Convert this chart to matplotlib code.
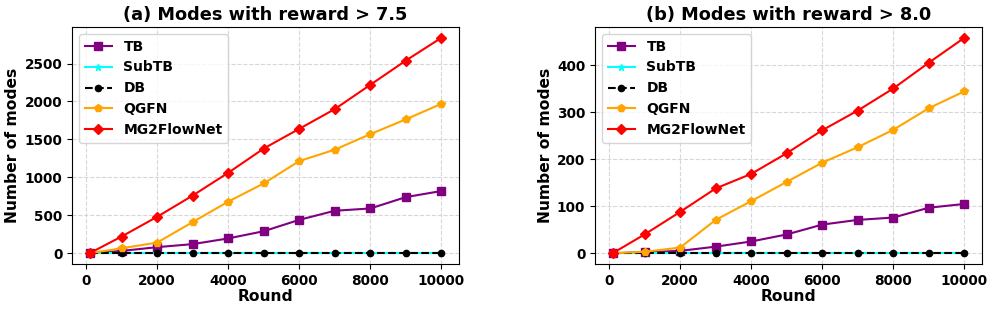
import matplotlib.pyplot as plt

rounds = [100, 1000, 2000, 3000, 4000, 5000, 6000, 7000, 8000, 9000, 10000]

# (a) reward > 7.5
tb_a = [0, 30, 80, 120, 195, 290, 440, 560, 590, 740, 820]
subtb_a = [0, 0, 0, 0, 0, 0, 0, 0, 0, 0, 0]
db_a = [0, 0, 0, 0, 0, 0, 0, 0, 0, 0, 0]
qgfn_a = [0, 65, 140, 410, 680, 920, 1215, 1365, 1570, 1765, 1970]
mg2_a = [0, 220, 480, 760, 1060, 1380, 1640, 1900, 2220, 2540, 2840]

# (b) reward > 8.0
tb_b = [0, 2, 5, 14, 25, 40, 61, 71, 76, 97, 105]
subtb_b = [0, 0, 0, 0, 0, 0, 0, 0, 0, 0, 0]
db_b = [0, 0, 0, 0, 0, 0, 0, 0, 0, 0, 0]
qgfn_b = [0, 3, 12, 71, 111, 152, 193, 226, 263, 309, 345]
mg2_b = [0, 40, 88, 138, 169, 213, 262, 304, 351, 406, 459]

titles = ["(a) Modes with reward > 7.5", "(b) Modes with reward > 8.0"]
series = [
    (tb_a, subtb_a, db_a, qgfn_a, mg2_a),
    (tb_b, subtb_b, db_b, qgfn_b, mg2_b),
]

plt.rcParams["font.weight"] = "bold"
plt.rcParams["axes.labelweight"] = "bold"
plt.rcParams["axes.titleweight"] = "bold"

fig = plt.figure(figsize=(9.96, 3.12), dpi=100)
boxes = [[72 / 996, 1 - 264 / 312, 387 / 996, 237 / 312],
         [595 / 996, 1 - 264 / 312, 387 / 996, 237 / 312]]

for i in range(2):
    ax = fig.add_axes(boxes[i])
    tb, subtb, db, qgfn, mg2 = series[i]
    ax.plot(rounds, tb, color="purple", marker="s", markersize=5.5, linewidth=1.5, label="TB")
    ax.plot(rounds, subtb, color="cyan", marker="*", markersize=5, linewidth=1.5, label="SubTB")
    ax.plot(rounds, db, color="black", marker="o", markersize=4.5, linewidth=1.5, linestyle="--", label="DB")
    ax.plot(rounds, qgfn, color="orange", marker="p", markersize=5.5, linewidth=1.5, label="QGFN")
    ax.plot(rounds, mg2, color="red", marker="D", markersize=5.5, linewidth=1.5, label="MG2FlowNet")
    ax.set_title(titles[i], fontsize=12.8, pad=5)
    ax.set_xlabel("Round", fontsize=11.2, labelpad=1)
    ax.set_ylabel("Number of modes", fontsize=11.2, labelpad=3)
    ax.set_xticks([0, 2000, 4000, 6000, 8000, 10000])
    ax.tick_params(labelsize=9.8)
    ax.grid(True, linestyle="--", color="lightgray", alpha=0.9, linewidth=0.8)
    ax.legend(loc="upper left", prop={"weight": "bold", "size": 10})

fig.savefig("out.png", dpi=100)
